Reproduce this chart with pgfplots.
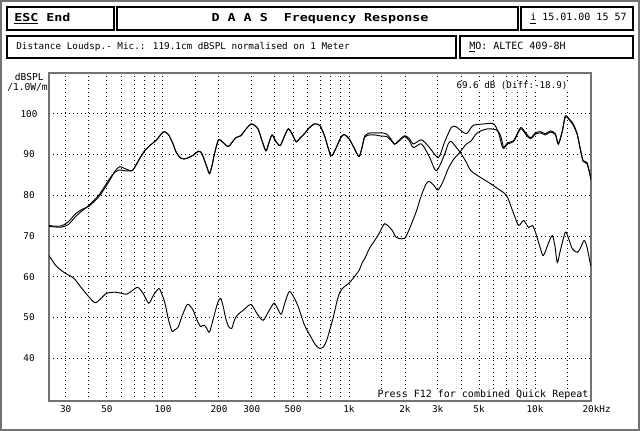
\documentclass[border=0pt]{standalone}
\usepackage{pgfplots}
\pgfplotsset{compat=1.18}
\usepackage{fontspec}
\setmainfont{DejaVu Sans Mono}
\newfontfamily\monoW[FakeStretch=1.22]{DejaVu Sans Mono}
\newcommand\titlef{\monoW\bfseries\fontsize{8.2}{9}\selectfont}
\newcommand\fs[1]{\fontsize{#1}{#1}\selectfont}
\begin{document}
\begin{tikzpicture}
\begin{scope}[x=0.75pt,y=-0.75pt]
\path[use as bounding box] (0,0) rectangle (640,431);
\draw[black!55, line width=1.5pt] (1,1) rectangle (639,430);
% header boxes
\draw[line width=1.8pt] (7,7) rectangle (114,30);
\draw[line width=1.8pt] (117,7) rectangle (518,30);
\draw[line width=1.8pt] (521,7) rectangle (633,30);
\draw[line width=1.8pt] (7,36) rectangle (456,58);
\draw[line width=1.8pt] (460,36) rectangle (633,58);
\node[anchor=west, inner sep=0, font=\titlef] at (14,18.5) {\underline{ESC} End};
\node[inner sep=0, font=\titlef] at (320,19) {D~A~A~S~~Frequency~Response};
\node[anchor=west, inner sep=0, font=\fs{7.5}] at (530,18.5) {\underline{i} 15.01.00 15 57};
\node[anchor=west, inner sep=0, font=\fs{7}] at (16,47) {Distance Loudsp.- Mic.: 119.1cm dBSPL normalised on 1 Meter};
\node[anchor=west, inner sep=0, font=\fs{7.5}] at (469,47) {\underline{M}O: ALTEC 409-8H};
% axis captions
\node[anchor=east, inner sep=0, font=\fs{7.2}] at (44,77) {dBSPL};
\node[anchor=east, inner sep=0, font=\fs{7.2}] at (48,87.5) {/1.0W/m};
\end{scope}
\begin{axis}[
  at={(36.75pt,-300.75pt)}, anchor=south west,
  scale only axis, width=406.5pt, height=246pt,
  xmode=log, xmin=24.4, xmax=20000, ymin=29.5, ymax=110,
  xtick={30,50,100,200,300,500,1000,2000,3000,5000,10000,20000},
  xticklabels={30,50,100,200,300,500,1k,2k,3k,5k,10k,20k\rlap{Hz}},
  minor xtick={40,60,70,80,90,150,400,600,700,800,900,1500,4000,6000,7000,8000,9000,15000},
  ytick={40,50,60,70,80,90,100},
  yticklabels={40,50,60,70,80,90,100},
  major tick length=0pt, minor tick length=0pt,
  grid=both,
  major grid style={black, line width=0.7pt, dash pattern=on 0.75pt off 2.25pt},
  minor grid style={black, line width=0.7pt, dash pattern=on 0.75pt off 2.25pt},
  axis line style={black!55, line width=1.1pt},
  tick label style={font=\fs{7}},
  xticklabel style={anchor=center, yshift=-6pt},
  yticklabel style={anchor=center, xshift=-15pt},
]
% trace B (full range)
\addplot[black, line width=0.7pt, smooth, tension=0.45] coordinates {
(24.0,72.4) (26.5,72.2) (28.6,72.2) (31,72.8) (34,74.8) (37,76.3) (40,77.5) (45.5,80.2) (51.5,84.0) (55,85.6) (58.4,86.2) (62,86.0) (66,86.0) (69,86.2) (75,89.0) (80,91.0) (85,92.2) (92,93.5) (100,95.5) (104,95.4) (108,94.6) (113,92.7) (118,90.5) (124,89.2) (130,88.9) (135,89.1) (145,89.8) (155,90.8) (160,90.6) (165,89.3) (172,87.0) (178,85.3) (184,87.5) (190,90.5) (199,93.6) (210,93.0) (225,92.0) (246,94.1) (262,94.6) (280,96.3) (300,97.5) (324,96.3) (340,93.5) (358,90.9) (372,93.0) (386,94.8) (405,93.2) (427,92.2) (450,94.5) (472,96.3) (495,95.0) (521,93.1) (545,94.0) (576,95.1) (610,96.5) (652,97.5) (697,97.1) (740,94.5) (800,89.7) (850,91.5) (900,94.0) (939,94.9) (1000,93.9) (1060,91.8) (1131,89.5) (1170,91.5) (1217,94.6) (1300,95.3) (1376,95.3) (1500,95.3) (1595,95.0) (1680,93.8) (1760,92.6) (1870,93.6) (1990,94.6) (2100,94.0) (2222,92.6) (2451,93.6) (2700,91.8) (3020,89.2) (3250,92.8) (3543,96.6) (3767,96.8) (4260,95.1) (4642,97.1) (5313,97.5) (6006,97.5) (6387,95.1) (6709,91.7) (7134,92.9) (7678,93.4) (8370,96.6) (8900,95.3) (9462,94.1) (10060,95.3) (10700,95.6) (11376,95.1) (12094,95.8) (12860,95.1) (13346,92.7) (14018,95.8) (14546,99.5) (15095,99.0) (16045,97.5) (16856,95.1) (17483,91.7) (18143,88.5) (19055,88.0) (20000,84.0)
};
% trace A (woofer)
\addplot[black, line width=0.7pt, smooth, tension=0.45] coordinates {
(24.0,72.6) (26.5,72.4) (28.6,72.5) (31,73.5) (34,75.5) (37,76.6) (40,77.3) (45.5,79.8) (51.5,83.5) (55,85.8) (58.4,87.0) (62,86.6) (66,86.1) (69,86.2) (75,89.0) (80,91.0) (85,92.2) (92,93.5) (100,95.5) (104,95.4) (108,94.6) (113,92.7) (118,90.5) (124,89.2) (130,88.9) (135,89.1) (145,89.8) (155,90.8) (160,90.6) (165,89.3) (172,87.0) (178,85.3) (184,87.5) (190,90.5) (199,93.6) (210,93.0) (225,92.0) (246,94.1) (262,94.6) (280,96.3) (300,97.5) (324,96.3) (340,93.5) (358,90.9) (372,93.0) (386,94.8) (405,93.2) (427,92.2) (450,94.5) (472,96.3) (495,95.0) (521,93.1) (545,94.0) (576,95.1) (610,96.5) (652,97.5) (697,97.1) (740,94.5) (800,89.7) (850,91.5) (900,94.0) (939,94.9) (1000,93.9) (1060,91.8) (1131,89.5) (1170,91.3) (1217,94.3) (1300,94.8) (1376,94.8) (1500,94.5) (1595,94.4) (1680,93.5) (1760,92.5) (1870,93.4) (1990,94.4) (2100,93.5) (2222,91.7) (2451,92.6) (2700,89.5) (2947,86.0) (3251,89.8) (3415,92.6) (3543,93.2) (3767,91.8) (4006,90.2) (4260,88.2) (4529,86.0) (5120,84.3) (5789,82.8) (6310,81.6) (6800,80.6) (7134,79.4) (7678,75.5) (8166,72.6) (8685,73.8) (9233,72.1) (9697,72.6) (10060,70.9) (10700,66.9) (11100,65.2) (11800,68.2) (12395,70.1) (12800,67.5) (13183,63.5) (13677,66.4) (14546,70.9) (15095,69.6) (15849,66.9) (16856,66.0) (17483,66.9) (18365,68.9) (19055,67.2) (19770,63.5) (20000,62.5)
};
% trace C (tweeter)
\addplot[black, line width=0.7pt, smooth, tension=0.45] coordinates {
(24.0,65.7) (26.5,62.8) (29.3,61.1) (33.2,59.6) (36.7,57.1) (42.7,53.7) (46,54.5) (49.6,55.9) (54.8,56.2) (59,56.0) (63.7,55.7) (68,56.5) (73.1,57.4) (78,56.0) (83.9,53.5) (89,55.5) (95.1,57.1) (98.5,55.8) (102.5,53.5) (107,49.5) (111.9,46.6) (115,46.9) (120.6,47.6) (127,50.5) (135,53.2) (140,52.8) (145.6,51.7) (152,49.5) (158.9,47.8) (163,48.0) (167,48.1) (172,47.3) (177.9,46.4) (186,49.5) (196.5,53.5) (204,54.7) (210,53.0) (217,50.0) (225,47.8) (234,47.3) (240,48.8) (246,50.0) (257,51.0) (269,51.7) (297,53.2) (320,51.0) (345,49.3) (370,51.5) (396,53.5) (415,52.0) (433,50.8) (455,54.0) (478,56.4) (505,55.0) (535,52.5) (577,48.1) (630,44.9) (660,43.3) (696,42.4) (730,42.8) (759,44.4) (795,47.5) (828,50.5) (860,53.8) (893,56.2) (940,57.5) (1000,58.4) (1060,59.8) (1131,61.5) (1180,63.5) (1217,64.5) (1290,67.0) (1376,68.9) (1460,70.8) (1555,73.0) (1700,71.5) (1781,69.8) (1848,69.4) (1990,69.4) (2080,71.0) (2168,73.0) (2300,76.0) (2451,80.0) (2600,82.8) (2704,83.4) (2850,82.5) (2947,81.6) (3020,81.3) (3200,83.3) (3415,86.5) (3650,88.8) (3908,90.3) (4260,92.5) (4529,93.3) (4816,95.0) (5120,95.8) (5580,96.3) (6006,96.2) (6310,95.8) (6546,94.5) (6709,92.5) (6792,91.5) (7134,92.6) (7678,93.2) (8370,96.3) (8900,95.0) (9462,93.9) (10060,95.0) (10700,95.3) (11376,94.8) (12094,95.5) (12860,94.9) (13346,92.5) (14018,95.6) (14546,99.2) (15095,98.8) (16045,97.2) (16856,94.9) (17483,91.4) (18143,88.3) (19055,87.7) (20000,83.8)
};
\end{axis}
\begin{scope}[x=0.75pt,y=-0.75pt]
\node[anchor=east, inner sep=1pt, fill=white, font=\fs{6.9}] at (569,86) {69.6 dB (Diff:-18.9)};
\node[anchor=base east, inner xsep=1pt, inner ysep=0pt, fill=white, font=\fs{7.5}] at (590,397.3) {Press F12 for combined Quick Repeat};
\end{scope}
\end{tikzpicture}
\end{document}
